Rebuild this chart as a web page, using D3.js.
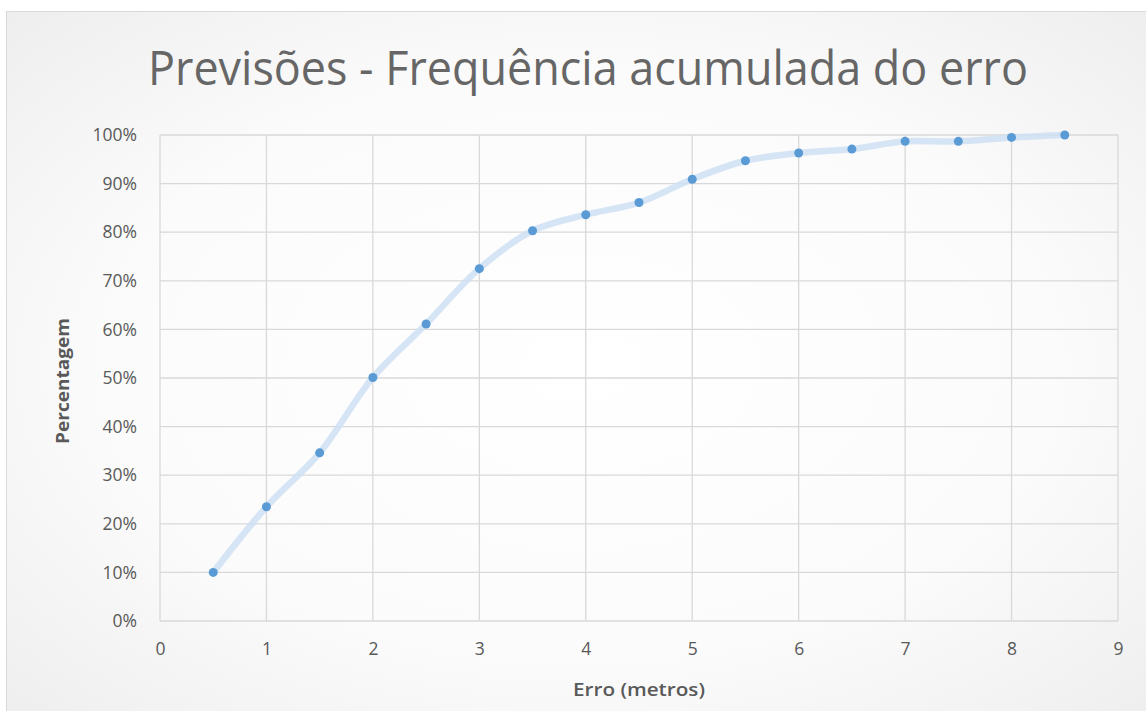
<!DOCTYPE html>
<html><head><meta charset="utf-8">
<script src="https://cdn.jsdelivr.net/npm/d3@7"></script>
<style>
html,body{margin:0;padding:0;background:#fff;}
svg{display:block;}
</style></head>
<body>
<svg id="c" width="1146" height="711"></svg>
<script>
const title = "Previsões - Frequência acumulada do erro";
const xLabel = "Erro (metros)";
const yLabel = "Percentagem";
const erro = [0.5,1,1.5,2,2.5,3,3.5,4,4.5,5,5.5,6,6.5,7,7.5,8,8.5];
const freq = [0.100,0.235,0.346,0.501,0.611,0.725,0.803,0.836,0.861,0.909,0.947,0.963,0.971,0.987,0.987,0.995,1.000];
const xTicks = [0,1,2,3,4,5,6,7,8,9];
const yTicks = [0,0.1,0.2,0.3,0.4,0.5,0.6,0.7,0.8,0.9,1.0];

const svg = d3.select("#c");
const defs = svg.append("defs");
const rg = defs.append("radialGradient").attr("id","bg").attr("cx","50%").attr("cy","50%").attr("r","75%");
rg.append("stop").attr("offset","0%").attr("stop-color","#ffffff");
rg.append("stop").attr("offset","55%").attr("stop-color","#fbfbfb");
rg.append("stop").attr("offset","100%").attr("stop-color","#ececec");

svg.append("rect").attr("x",6.5).attr("y",11.5).attr("width",1150).attr("height",710)
  .attr("fill","url(#bg)").attr("stroke","#d9d9d9").attr("stroke-width",1);

const m = {l:160, r:1118, t:135, b:621};
const x = d3.scaleLinear().domain([0,9]).range([m.l,m.r]);
const y = d3.scaleLinear().domain([0,1]).range([m.b,m.t]);

const grid = svg.append("g");
grid.selectAll("line.h").data(yTicks).join("line")
  .attr("x1",m.l).attr("x2",m.r).attr("y1",d=>y(d)).attr("y2",d=>y(d))
  .attr("stroke","#d9d9d9").attr("stroke-width",1.3);
grid.selectAll("line.v").data(xTicks).join("line")
  .attr("y1",m.t).attr("y2",m.b).attr("x1",d=>x(d)).attr("x2",d=>x(d))
  .attr("stroke","#d9d9d9").attr("stroke-width",1.3);

const yAxis = d3.axisLeft(y).tickValues(yTicks).tickFormat(d3.format(".0%")).tickSize(0).tickPadding(23);
const ya = svg.append("g").attr("transform",`translate(${m.l},0)`).call(yAxis);
ya.select(".domain").remove();
ya.selectAll("text").attr("fill","#595959").style("font-family","'Open Sans',sans-serif").style("font-size","17.5px");

const xAxis = d3.axisBottom(x).tickValues(xTicks).tickFormat(d3.format("d")).tickSize(0).tickPadding(22);
const xa = svg.append("g").attr("transform",`translate(0,${m.b})`).call(xAxis);
xa.select(".domain").remove();
xa.selectAll("text").attr("fill","#595959").style("font-family","'Open Sans',sans-serif").style("font-size","17.5px");

const pts = erro.map((e,i)=>[e,freq[i]]);
const line = d3.line().x(d=>x(d[0])).y(d=>y(d[1])).curve(d3.curveCatmullRom.alpha(0.5));
svg.append("path").attr("d",line(pts)).attr("fill","none")
  .attr("stroke","#cfe1f3").attr("stroke-opacity",0.85).attr("stroke-width",6.5).attr("stroke-linejoin","round").attr("stroke-linecap","round");

svg.selectAll("circle.p").data(pts).join("circle")
  .attr("cx",d=>x(d[0])).attr("cy",d=>y(d[1])).attr("r",4.5).attr("fill","#5b9bd5");

svg.append("text").attr("x",588).attr("y",85).attr("text-anchor","middle")
  .attr("fill","#666666").style("font-family","'Open Sans',sans-serif").style("font-size","48px")
  .attr("textLength",880).attr("lengthAdjust","spacingAndGlyphs").text(title);

svg.append("text").attr("x",639).attr("y",696).attr("text-anchor","middle")
  .attr("fill","#595959").style("font-family","'Open Sans',sans-serif").style("font-size","18px").style("font-weight","600")
  .attr("textLength",132).attr("lengthAdjust","spacingAndGlyphs").text(xLabel);

svg.append("text").attr("transform","translate(69,381) rotate(-90)").attr("text-anchor","middle")
  .attr("fill","#595959").style("font-family","'Open Sans',sans-serif").style("font-size","17px").style("font-weight","700")
  .attr("textLength",126).attr("lengthAdjust","spacingAndGlyphs").text(yLabel);
</script>
</body></html>
